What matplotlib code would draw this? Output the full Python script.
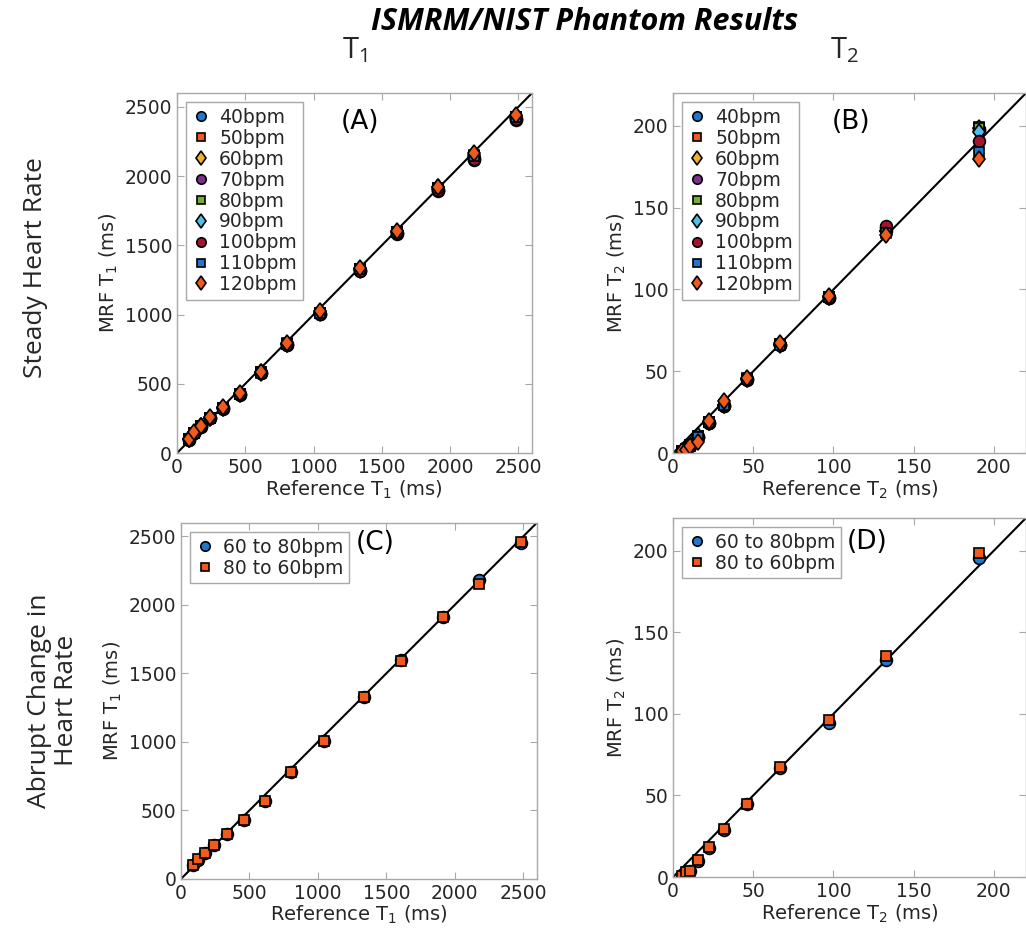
import matplotlib.pyplot as plt
from matplotlib.markers import MarkerStyle
from matplotlib.transforms import Affine2D

plt.rcParams['font.family'] = ['DejaVu Sans']
plt.rcParams['mathtext.default'] = 'regular'

# reference (NIST phantom) values
ref_t1 = [90, 127, 176, 244, 339, 461, 612, 807, 1046, 1337, 1610, 1910, 2178, 2480]
ref_t2 = [5.6, 7.9, 10.3, 15.8, 22.6, 31.9, 46.3, 66.9, 97, 132.7, 190.7]

rates = ['40bpm', '50bpm', '60bpm', '70bpm', '80bpm', '90bpm', '100bpm', '110bpm', '120bpm']
colors = ['#1f77d0', '#f05a1a', '#f0b428', '#7e2f8e', '#77ac30', '#4dbeee', '#a2142f', '#1f77d0', '#f05a1a']
shapes = ['o', 's', 'd', 'o', 's', 'd', 'o', 's', 'd']

# steady heart rate, MRF T1 (ms)
steady_t1 = [
    [98, 145, 192, 252, 322, 425, 578, 785, 1008, 1320, 1590, 1900, 2130, 2410],
    [100, 148, 195, 255, 325, 428, 582, 790, 1012, 1328, 1596, 1912, 2145, 2425],
    [99, 146, 194, 254, 324, 427, 580, 788, 1010, 1325, 1594, 1908, 2140, 2420],
    [97, 144, 191, 251, 320, 423, 575, 782, 1002, 1315, 1585, 1895, 2118, 2405],
    [100, 147, 195, 256, 326, 430, 583, 792, 1015, 1330, 1598, 1915, 2150, 2430],
    [101, 148, 196, 256, 327, 429, 584, 791, 1016, 1331, 1600, 1918, 2155, 2432],
    [99, 145, 193, 253, 322, 424, 577, 784, 1005, 1318, 1588, 1902, 2125, 2415],
    [100, 147, 195, 255, 325, 428, 581, 789, 1012, 1327, 1595, 1912, 2148, 2428],
    [102, 150, 198, 258, 330, 432, 586, 795, 1025, 1335, 1602, 1925, 2165, 2445],
]

# steady heart rate, MRF T2 (ms)
steady_t2 = [
    [0.8, 2.0, 4.5, 10.0, 18.5, 29.0, 45.0, 66.0, 95.0, 135.5, 198.0],
    [1.0, 2.2, 4.8, 10.5, 19.0, 29.5, 45.5, 66.5, 95.5, 136.5, 199.0],
    [0.9, 2.1, 4.6, 10.2, 18.8, 29.2, 45.2, 66.2, 95.2, 136.0, 198.5],
    [0.7, 1.9, 4.4, 9.8, 18.2, 28.8, 44.8, 65.8, 94.8, 137.5, 197.5],
    [1.0, 2.3, 4.9, 10.6, 19.2, 29.6, 45.6, 66.6, 95.6, 136.2, 198.8],
    [0.9, 2.0, 4.7, 10.3, 18.9, 29.4, 45.3, 66.4, 95.4, 135.8, 196.5],
    [0.8, 1.9, 4.5, 10.1, 18.6, 29.1, 45.1, 66.1, 95.1, 139.0, 191.0],
    [0.9, 2.1, 4.6, 9.6, 18.7, 29.3, 45.4, 66.3, 95.3, 134.5, 184.0],
    [1.0, 2.0, 4.3, 6.8, 19.5, 32.0, 46.0, 67.0, 96.0, 133.0, 180.0],
]

# abrupt change in heart rate
abrupt_labels = ['60 to 80bpm', '80 to 60bpm']
abrupt_colors = ['#1f77d0', '#f05a1a']
abrupt_shapes = ['o', 's']
abrupt_t1 = [
    [100, 141, 190, 249, 326, 430, 570, 782, 1007, 1330, 1594, 1908, 2185, 2455],
    [100, 142, 191, 250, 325, 429, 568, 780, 1005, 1329, 1593, 1910, 2152, 2458],
]
abrupt_t2 = [
    [0.2, 2.6, 3.6, 9.8, 17.8, 29.0, 44.5, 66.8, 94.3, 133.2, 195.5],
    [0.4, 2.9, 3.9, 10.2, 18.2, 29.4, 44.9, 67.3, 95.9, 135.5, 198.4],
]

SPINE = '#a8a8a8'
TXT = '#262626'

# matlab-ish marker shapes and sizes
DIAMOND = MarkerStyle('D', transform=Affine2D().scale(0.72, 1.0))
MK = {'o': ('o', 8.5), 's': ('s', 7.0), 'd': (DIAMOND, 8.5)}


def style_axes(ax, lim, ticks, kind, panel, ppos):
    ax.plot([0, lim], [0, lim], color='black', lw=1.5, zorder=1)
    ax.set_xlim(0, lim)
    ax.set_ylim(0, lim)
    ax.set_xticks(ticks)
    ax.set_yticks(ticks)
    for s in ax.spines.values():
        s.set_color(SPINE)
        s.set_linewidth(1.0)
    ax.tick_params(direction='in', top=True, right=True, color=SPINE,
                   labelcolor=TXT, labelsize=13.5, length=5)
    ax.set_xlabel('Reference T$_%s$ (ms)' % kind, fontsize=14, color=TXT, labelpad=1)
    ax.set_ylabel('MRF T$_%s$ (ms)' % kind, fontsize=14, color=TXT, labelpad=3)
    ax.text(ppos[0], ppos[1], panel, transform=ax.transAxes, fontsize=19,
            ha='center', va='center', color='black')


fig = plt.figure(figsize=(10.26, 9.4), dpi=100)
axA = fig.add_axes([0.1725, 0.518, 0.346, 0.383])
axB = fig.add_axes([0.656, 0.518, 0.344, 0.383])
axC = fig.add_axes([0.1764, 0.065, 0.347, 0.379])
axD = fig.add_axes([0.656, 0.067, 0.344, 0.382])

t1_ticks = [0, 500, 1000, 1500, 2000, 2500]
t2_ticks = [0, 50, 100, 150, 200]

for i, r in enumerate(rates):
    m, ms = MK[shapes[i]]
    axA.plot(ref_t1, steady_t1[i], linestyle='none', marker=m, ms=ms,
             mfc=colors[i], mec='black', mew=1.2, label=r, zorder=2)
    axB.plot(ref_t2, steady_t2[i], linestyle='none', marker=m, ms=ms,
             mfc=colors[i], mec='black', mew=1.2, label=r, zorder=2)

for i, lab in enumerate(abrupt_labels):
    m, ms = MK[abrupt_shapes[i]]
    axC.plot(ref_t1, abrupt_t1[i], linestyle='none', marker=m, ms=ms,
             mfc=abrupt_colors[i], mec='black', mew=1.2, label=lab, zorder=2)
    axD.plot(ref_t2, abrupt_t2[i], linestyle='none', marker=m, ms=ms,
             mfc=abrupt_colors[i], mec='black', mew=1.2, label=lab, zorder=2)

style_axes(axA, 2600, t1_ticks, '1', '(A)', (0.515, 0.92))
style_axes(axB, 220, t2_ticks, '2', '(B)', (0.503, 0.92))
style_axes(axC, 2600, t1_ticks, '1', '(C)', (0.545, 0.944))
style_axes(axD, 220, t2_ticks, '2', '(D)', (0.551, 0.933))

for ax in (axA, axB, axC, axD):
    leg = ax.legend(loc='upper left', fontsize=13.5, fancybox=False, framealpha=1,
                    edgecolor=SPINE, labelspacing=0.1, handletextpad=0.45,
                    handlelength=1.0, borderpad=0.3, borderaxespad=0.5,
                    markerscale=0.8)
    leg.get_frame().set_linewidth(1.0)
    for t in leg.get_texts():
        t.set_color(TXT)

fig.text(0.57, 0.977, 'ISMRM/NIST Phantom Results', ha='center', va='center',
         fontsize=22, fontweight='bold', fontstyle='italic', family=['Open Sans', 'DejaVu Sans'])
fig.text(0.346, 0.947, 'T$_1$', ha='center', va='center', fontsize=21, color=TXT,
         family=['Open Sans', 'DejaVu Sans'])
fig.text(0.823, 0.947, 'T$_2$', ha='center', va='center', fontsize=21, color=TXT,
         family=['Open Sans', 'DejaVu Sans'])
fig.text(0.035, 0.715, 'Steady Heart Rate', rotation=90, ha='center', va='center',
         fontsize=19, color=TXT, family=['Open Sans', 'DejaVu Sans'])
fig.text(0.052, 0.255, 'Abrupt Change in\nHeart Rate', rotation=90, ha='center', va='center',
         fontsize=19, color=TXT, linespacing=1.1, family=['Open Sans', 'DejaVu Sans'])

fig.savefig('out.png', dpi=100)
